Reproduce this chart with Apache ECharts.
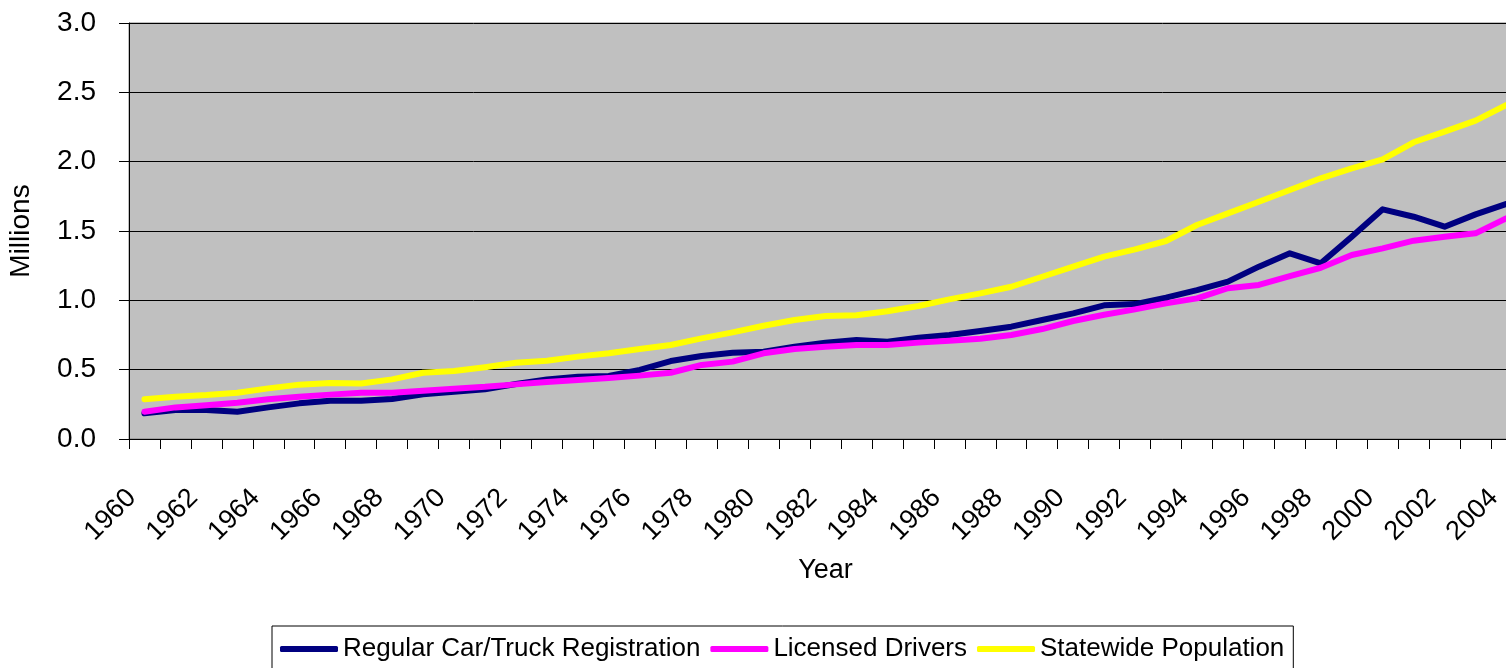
<!DOCTYPE html>
<html>
<head>
<meta charset="utf-8">
<script src="https://cdn.jsdelivr.net/npm/echarts@6/dist/echarts.min.js"></script>
<style>
html,body{margin:0;padding:0;background:#fff;overflow:hidden;}
#chart{width:1506px;height:668px;}
</style>
</head>
<body>
<div id="chart"></div>
<script>
const years = ["1960","1961","1962","1963","1964","1965","1966","1967","1968","1969",
  "1970","1971","1972","1973","1974","1975","1976","1977","1978","1979",
  "1980","1981","1982","1983","1984","1985","1986","1987","1988","1989",
  "1990","1991","1992","1993","1994","1995","1996","1997","1998","1999",
  "2000","2001","2002","2003","2004"];

const registration = [0.185,0.209,0.209,0.197,0.228,0.257,0.276,0.276,0.288,0.322,
  0.341,0.358,0.397,0.430,0.449,0.454,0.498,0.562,0.599,0.622,
  0.630,0.666,0.695,0.714,0.702,0.731,0.750,0.779,0.810,0.858,
  0.906,0.964,0.973,1.019,1.074,1.135,1.243,1.339,1.267,1.459,
  1.656,1.603,1.531,1.620,1.695];

const drivers = [0.197,0.228,0.243,0.262,0.286,0.305,0.320,0.334,0.334,0.348,
  0.363,0.376,0.394,0.411,0.425,0.440,0.457,0.478,0.534,0.558,
  0.618,0.649,0.666,0.678,0.678,0.695,0.709,0.723,0.750,0.793,
  0.851,0.896,0.935,0.978,1.014,1.087,1.111,1.175,1.235,1.327,
  1.375,1.430,1.459,1.483,1.592];

const population = [0.286,0.305,0.317,0.334,0.365,0.392,0.404,0.400,0.430,0.478,
  0.490,0.518,0.550,0.565,0.594,0.618,0.649,0.678,0.726,0.769,
  0.817,0.858,0.887,0.892,0.921,0.959,1.007,1.050,1.098,1.170,
  1.243,1.315,1.368,1.428,1.543,1.627,1.711,1.796,1.880,1.952,
  2.017,2.140,2.216,2.296,2.409];

const seriesNames = ["Regular Car/Truck Registration","Licensed Drivers","Statewide Population"];
const seriesColors = ["#000080","#FF00FF","#FFFF00"];

const FONT = "'Liberation Sans', Arial, sans-serif";
const chart = echarts.init(document.getElementById('chart'), null, {renderer:'canvas'});

const mk = (name, data, color) => ({
  name: name, type: 'line', data: data, showSymbol: false, symbol: 'none',
  lineStyle: {color: color, width: 6, cap: 'round', join: 'round'},
  itemStyle: {color: color}, animation: false
});

chart.setOption({
  animation: false,
  textStyle: {fontFamily: FONT, color: '#000'},
  grid: {left: 129, top: 23, width: 1393, height: 416, show: true,
    outerBoundsMode: 'none', containLabel: false,
    backgroundColor: '#C0C0C0', borderColor: '#808080', borderWidth: 1},
  xAxis: {
    type: 'category', data: years, boundaryGap: true,
    name: 'Year', nameLocation: 'middle', nameGap: 118,
    nameTextStyle: {fontFamily: FONT, fontSize: 27, color: '#000'},
    axisLine: {show: true, lineStyle: {color: '#000', width: 1}},
    axisTick: {show: true, interval: 0, length: 10, inside: false, lineStyle: {color: '#000'}},
    axisLabel: {interval: 1, rotate: 45, margin: 42, padding: [0, 18, 0, 0],
      fontFamily: FONT, fontSize: 27, color: '#000'},
    splitLine: {show: false}
  },
  yAxis: {
    type: 'value', min: 0, max: 3, interval: 0.5,
    name: 'Millions', nameLocation: 'middle', nameGap: 94, nameRotate: 90,
    nameTextStyle: {fontFamily: FONT, fontSize: 28, color: '#000'},
    axisLine: {show: true, lineStyle: {color: '#000', width: 1}},
    axisTick: {show: true, length: 10, inside: false, lineStyle: {color: '#000'}},
    axisLabel: {margin: 33, fontFamily: FONT, fontSize: 28, color: '#000',
      formatter: v => v.toFixed(1)},
    splitLine: {show: true, lineStyle: {color: '#000', width: 1}}
  },
  legend: {
    left: 272, top: 626, orient: 'horizontal',
    data: seriesNames.map(n => ({name: n, icon: 'roundRect'})),
    itemWidth: 58, itemHeight: 6, itemGap: 10,
    padding: [10, 9, 14, 8],
    borderColor: '#000', borderWidth: 1, backgroundColor: '#fff',
    textStyle: {fontFamily: FONT, fontSize: 26, color: '#000'}
  },
  series: [
    mk(seriesNames[0], registration, seriesColors[0]),
    mk(seriesNames[1], drivers, seriesColors[1]),
    mk(seriesNames[2], population, seriesColors[2])
  ]
});
</script>
</body>
</html>
